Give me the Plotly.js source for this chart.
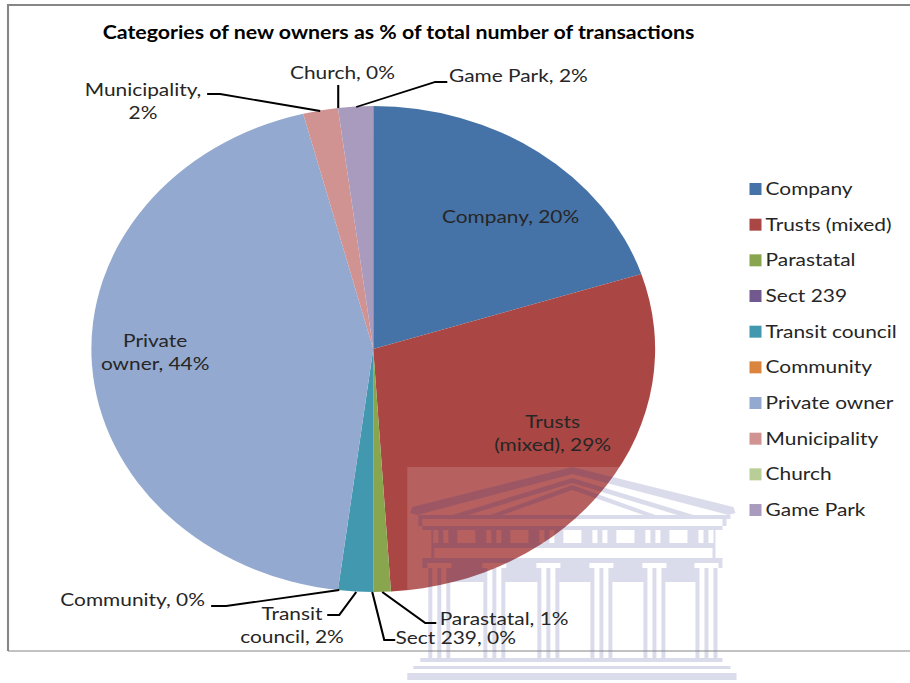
<!DOCTYPE html>
<html>
<head>
<meta charset="utf-8">
<script src="https://cdn.plot.ly/plotly-3.0.1.min.js"></script>
<style>
  html, body { margin: 0; padding: 0; background: #fff; overflow: hidden; }
  #stage { width: 910px; height: 683px; overflow: hidden; }
  /* The chart is wide-set: pie and lettering are both stretched horizontally. */
  #chart { width: 784.5px; height: 683px; transform-origin: 0 0; transform: scale(1.16, 1); }
</style>
</head>
<body>
<div id="stage"><div id="chart"></div></div>
<script>
const chartTitle = 'Categories of new owners as % of total number of transactions';
const categories = ['Company', 'Trusts (mixed)', 'Parastatal', 'Sect 239', 'Transit council',
  'Community', 'Private owner', 'Municipality', 'Church', 'Game Park'];
const shares = [20, 29, 1, 0, 2, 0, 44, 2, 0, 2];
const sliceColors = ['#4573A7', '#AA4643', '#89A54E', '#71588F', '#4198AF',
  '#DB843D', '#93A9CF', '#D19392', '#B9CD96', '#A99BBD'];

// Data label placement, one entry per category: centre x, centre y, wrapped after the first word?
const labelSpots = [
  [510, 216, false], [552, 432, true], [504, 618, false], [455, 637, false], [292, 624, true],
  [133, 599, false], [155, 351, true], [143, 100, true], [342, 72, false], [518, 75, false]
];
// Leader lines from outside labels to their slices
const leaders = [
  [[207, 94], [220, 94], [320, 111]],
  [[338, 85], [338, 108]],
  [[447, 82], [435, 82], [356, 107]],
  [[211, 606], [226, 606], [339, 590]],
  [[327, 615], [339, 615], [356, 592]],
  [[395, 640], [384, 640], [372, 592]],
  [[436, 623], [425, 623], [382, 592]]
];
const legendX = 749, legendTextX = 763, legendTop = 189, legendStep = 35.67;

// Positions below are given in page pixels and converted to paper fractions.
const px = x => x / 910;
const py = y => 1 - y / 683;
const toPath = pts => pts.map((p, i) => (i ? 'L' : 'M') + px(p[0]) + ',' + py(p[1])).join(' ');
const fontFamily = 'Lato, "Open Sans", sans-serif';
const textSize = 18;
const titleSize = 18.4;

const shapes = [];
const paperShape = extra => Object.assign({ xref: 'paper', yref: 'paper', layer: 'above' }, extra);

// Crest in the lower right corner
const crestTint = 'rgba(255,255,255,0.15)';
const crestInk = 'rgba(30,40,130,0.16)';
shapes.push(paperShape({ type: 'rect', x0: px(407), x1: px(735), y0: py(467), y1: py(683),
  fillcolor: crestTint, line: { width: 0 } }));

const crestPolys = [];
const box = (x0, x1, y0, y1) => crestPolys.push([[x0, y0], [x1, y0], [x1, y1], [x0, y1]]);
// A horizontal band with gaps cut out of it
const band = (x0, x1, y0, y1, gaps) => {
  let x = x0;
  gaps.forEach(g => { box(x, g[0], y0, y1); x = g[1]; });
  box(x, x1, y0, y1);
};

// Pediment: outer roof line and two inner chevrons
crestPolys.push([[412, 507], [572, 467], [733, 507], [735, 513], [728, 515], [572, 474], [417, 515], [410, 513]]);
crestPolys.push([[452, 515], [572, 478], [693, 515], [677, 515], [572, 483], [468, 515]]);
crestPolys.push([[490, 515], [572, 485], [655, 515], [643, 515], [572, 490], [502, 515]]);
box(418, 730, 515, 519);
box(418, 422, 519, 526);
box(722, 726, 519, 526);
box(422, 722, 526, 530);

// Frieze with its windows and paired slits
const windows = [457, 510, 563, 616, 669];
const frieze = [[433, 438], [443, 448]];
windows.forEach(w => {
  frieze.push([w, w + 18], [w + 29, w + 34], [w + 39, w + 44]);
});
band(431, 715, 530, 543, frieze);
box(431, 715, 543, 548);
box(431, 434, 548, 558);
box(712, 715, 548, 558);

// Capital band and columns
const columns = [428, 483, 537, 590, 643, 695];
const columnWidth = 22;
box(422, 722, 558, 563);
band(422, 722, 563, 568, columns.map(c => [c - 1, c + columnWidth + 1]));
band(450, 695, 568, 582, columns.slice(1, 5).map(c => [c, c + columnWidth]));
columns.forEach(c => {
  [0, 9, 18].forEach(d => box(c + d, c + d + 4, 568, 658));
});

// Steps
box(420, 722, 658, 662);
box(413, 730, 666, 669);
box(407, 736, 673, 680);

crestPolys.forEach(p => shapes.push(paperShape({ type: 'path', path: toPath(p) + ' Z',
  fillcolor: crestInk, line: { width: 0 } })));

// Outer frame
shapes.push(paperShape({ type: 'path', path: toPath([[8, 651], [8, 5], [910, 5]]),
  line: { color: '#868686', width: 1.8 } }));
shapes.push(paperShape({ type: 'path', path: toPath([[8, 651], [910, 651]]),
  line: { color: '#868686', width: 1.2 } }));

leaders.forEach(l => shapes.push(paperShape({ type: 'path', path: toPath(l),
  line: { color: '#000', width: 1.8 } })));

const annotations = [];
const addText = (text, x, y, anchor, size, color) => annotations.push({
  text, x: px(x), y: py(y), xref: 'paper', yref: 'paper', showarrow: false,
  xanchor: anchor, yanchor: 'middle', align: 'center',
  font: { family: fontFamily, size, color }
});

categories.forEach((name, i) => {
  const [x, y, wrap] = labelSpots[i];
  let text = name + ', ' + shares[i] + '%';
  if (wrap) text = text.replace(' ', '<br>');
  addText(text, x, y, 'center', textSize, '#262626');
});

// Legend column
categories.forEach((name, i) => {
  const y = legendTop + i * legendStep;
  shapes.push(paperShape({ type: 'rect', x0: px(legendX), x1: px(legendX + 12), y0: py(y - 6), y1: py(y + 6),
    fillcolor: sliceColors[i], line: { width: 0 } }));
  addText(name, legendTextX, y - 1, 'left', textSize, '#262626');
});

const data = [{
  type: 'pie',
  labels: categories,
  values: shares,
  sort: false,
  direction: 'clockwise',
  rotation: 0,
  textinfo: 'none',
  hoverinfo: 'label+percent',
  marker: { colors: sliceColors, line: { width: 0 } },
  domain: { x: [px(91), px(655)], y: [py(592), py(106)] }
}];

const layout = {
  width: 784.5,
  height: 683,
  margin: { l: 0, r: 0, t: 0, b: 0 },
  paper_bgcolor: '#fff',
  showlegend: false,
  title: { text: '<b>' + chartTitle + '</b>', x: px(398.5), xanchor: 'center', y: py(32.5), yanchor: 'middle',
    font: { family: fontFamily, size: titleSize, color: '#000' } },
  shapes,
  annotations
};

Plotly.newPlot('chart', data, layout, { displayModeBar: false, staticPlot: true });
</script>
</body>
</html>
